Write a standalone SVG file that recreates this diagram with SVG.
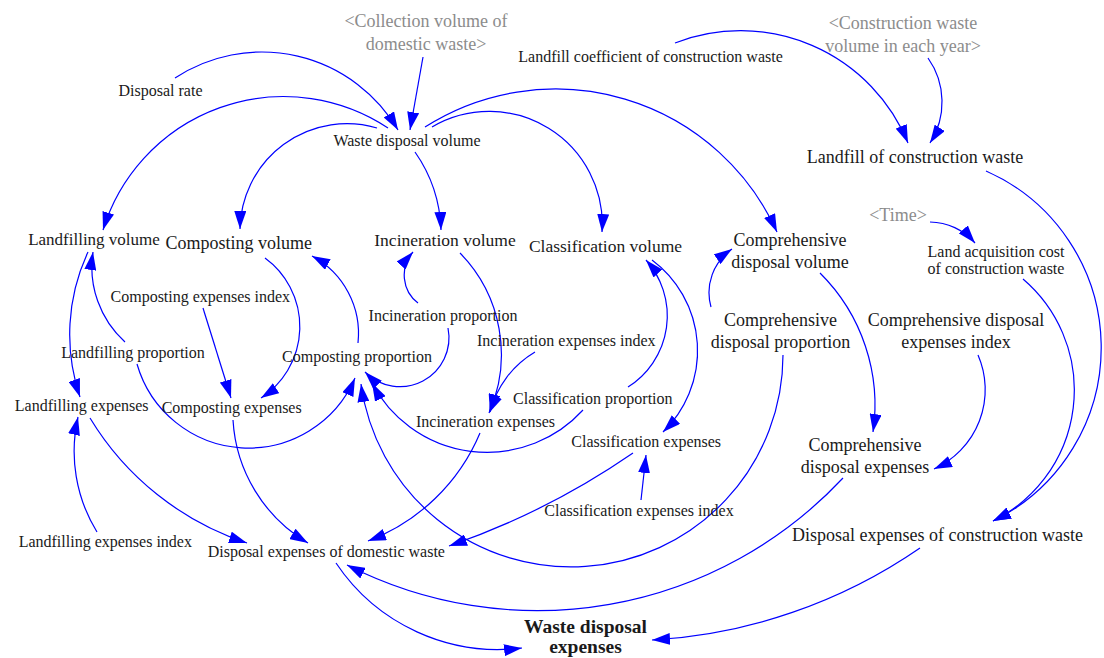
<svg xmlns="http://www.w3.org/2000/svg" width="1104" height="658" viewBox="0 0 1104 658">
  <defs>
    <style>
      text { font-family: "Liberation Serif", "Times New Roman", serif; fill: #1a1a1a; text-anchor: middle; }
      .s { font-size: 16px; }
      .m { font-size: 18px; }
      .g { font-size: 18px; fill: #8c8c8c; }
      .b { font-size: 19.5px; font-weight: bold; }
      .link { fill: none; stroke: #0000ff; stroke-width: 1.2; marker-end: url(#ah); }
    </style>
    <marker id="ah" viewBox="0 0 18 12" refX="18" refY="6" markerWidth="18" markerHeight="12" markerUnits="userSpaceOnUse" orient="auto">
      <path d="M0,0 L18,6 L0,12 z" fill="#0000ff"/>
    </marker>
  </defs>
  <rect width="1104" height="658" fill="#ffffff"/>

  <!-- causal links -->
  <g id="links">
    <path class="link" d="M175,78 A158,158 0 0 1 398,130"/>
    <path class="link" d="M423,57 L410,130"/>
    <path class="link" d="M388,128 A189,189 0 0 0 103,230"/>
    <path class="link" d="M377,128 A107,107 0 0 0 240,229"/>
    <path class="link" d="M415,152 A144,144 0 0 1 441,230"/>
    <path class="link" d="M432,127 A113,113 0 0 1 602,232"/>
    <path class="link" d="M425,127 A243,243 0 0 1 777,232"/>
    <path class="link" d="M675,43 A181,181 0 0 1 908,143"/>
    <path class="link" d="M928,58 A76,76 0 0 1 930,143"/>
    <path class="link" d="M986,171 A193,193 0 0 1 993,521"/>
    <path class="link" d="M930,222 A60,60 0 0 1 975,243"/>
    <path class="link" d="M1023,279 A146,146 0 0 1 993,521"/>
    <path class="link" d="M978,355 A87,87 0 0 1 934,469"/>
    <path class="link" d="M820,273 A186,186 0 0 1 873,432"/>
    <path class="link" d="M711,307 A53,53 0 0 1 732,249"/>
    <path class="link" d="M783,355 A212,212 0 0 1 361,384"/>
    <path class="link" d="M843,478 A419,419 0 0 1 347,565"/>
    <path class="link" d="M125,342 A101,101 0 0 1 93,252"/>
    <path class="link" d="M137,364 A116,116 0 0 0 355,378"/>
    <path class="link" d="M418,303 A35,35 0 0 1 413,252"/>
    <path class="link" d="M448,328 A49,49 0 0 1 365,372"/>
    <path class="link" d="M628,387 A84,84 0 0 0 646,260"/>
    <path class="link" d="M583,410 A130,130 0 0 1 372,383"/>
    <path class="link" d="M358,343 A88,88 0 0 0 312,256"/>
    <path class="link" d="M88,252 A195,195 0 0 0 80,397"/>
    <path class="link" d="M265,258 A85,85 0 0 1 261,398"/>
    <path class="link" d="M203,308 L231,398"/>
    <path class="link" d="M460,253 A145,145 0 0 1 489,413"/>
    <path class="link" d="M535,352 A98,98 0 0 0 490,412"/>
    <path class="link" d="M652,260 A113,113 0 0 1 663,432"/>
    <path class="link" d="M641,500 L646,455"/>
    <path class="link" d="M97,532 A154,154 0 0 1 78,417"/>
    <path class="link" d="M90,418 A289,289 0 0 0 247,543"/>
    <path class="link" d="M233,420 A153,153 0 0 0 308,543"/>
    <path class="link" d="M480,433 A197,197 0 0 1 368,541"/>
    <path class="link" d="M633,453 A762,762 0 0 1 449,546"/>
    <path class="link" d="M336,563 A195,195 0 0 0 522,648"/>
    <path class="link" d="M920,548 A525,525 0 0 1 652,640"/>
  </g>

  <!-- variables -->
  <g id="collection-volume"><text class="g" x="426" y="27">&lt;Collection volume of</text><text class="g" x="426" y="50">domestic waste&gt;</text></g>
  <g id="disposal-rate"><text class="s" x="160.5" y="95.5">Disposal rate</text></g>
  <g id="landfill-coefficient"><text class="s" x="650.5" y="61.5">Landfill coefficient of construction waste</text></g>
  <g id="construction-waste-volume"><text class="g" x="903" y="29">&lt;Construction waste</text><text class="g" x="903" y="51.5">volume in each year&gt;</text></g>
  <g id="waste-disposal-volume"><text class="s" x="407" y="145.5">Waste disposal volume</text></g>
  <g id="landfill-construction"><text class="m" x="915" y="162.5">Landfill of construction waste</text></g>
  <g id="landfilling-volume"><text class="m" style="font-size:17px" x="94" y="245">Landfilling volume</text></g>
  <g id="composting-volume"><text class="m" x="238.7" y="249">Composting volume</text></g>
  <g id="incineration-volume"><text class="m" style="font-size:17.5px" x="445" y="246">Incineration volume</text></g>
  <g id="classification-volume"><text class="m" style="font-size:17.5px" x="605.5" y="252">Classification volume</text></g>
  <g id="comprehensive-volume"><text class="m" x="790" y="246">Comprehensive</text><text class="m" x="790" y="268">disposal volume</text></g>
  <g id="time"><text class="g" x="898" y="221">&lt;Time&gt;</text></g>
  <g id="land-acquisition"><text class="s" x="996" y="256.5">Land acquisition cost</text><text class="s" x="996" y="274">of construction waste</text></g>
  <g id="composting-index"><text class="s" x="200.3" y="301.5">Composting expenses index</text></g>
  <g id="incineration-proportion"><text class="s" x="443" y="320.5">Incineration proportion</text></g>
  <g id="comprehensive-proportion"><text class="m" x="780.5" y="326">Comprehensive</text><text class="m" x="780.5" y="348">disposal proportion</text></g>
  <g id="comprehensive-index"><text class="m" x="956" y="326">Comprehensive disposal</text><text class="m" x="956" y="347.5">expenses index</text></g>
  <g id="incineration-index"><text class="s" x="566.3" y="345.5">Incineration expenses index</text></g>
  <g id="landfilling-proportion"><text class="s" x="133" y="357.5">Landfilling proportion</text></g>
  <g id="composting-proportion"><text class="s" x="357" y="362">Composting proportion</text></g>
  <g id="classification-proportion"><text class="s" x="592.8" y="404">Classification proportion</text></g>
  <g id="landfilling-expenses"><text class="s" x="81.7" y="410.5">Landfilling expenses</text></g>
  <g id="composting-expenses"><text class="s" x="231.7" y="413">Composting expenses</text></g>
  <g id="incineration-expenses"><text class="s" x="485.5" y="426.5">Incineration expenses</text></g>
  <g id="classification-expenses"><text class="s" x="646.2" y="447">Classification expenses</text></g>
  <g id="comprehensive-expenses"><text class="m" x="865" y="450.5">Comprehensive</text><text class="m" x="865" y="473">disposal expenses</text></g>
  <g id="classification-index"><text class="s" x="639" y="515.5">Classification expenses index</text></g>
  <g id="landfilling-index"><text class="s" x="105.3" y="547">Landfilling expenses index</text></g>
  <g id="domestic-expenses"><text class="s" x="326.3" y="557">Disposal expenses of domestic waste</text></g>
  <g id="construction-expenses"><text class="m" x="937.5" y="540.5">Disposal expenses of construction waste</text></g>
  <g id="waste-disposal-expenses"><text class="b" x="585.5" y="632.5">Waste disposal</text><text class="b" x="585.5" y="653">expenses</text></g>
</svg>
